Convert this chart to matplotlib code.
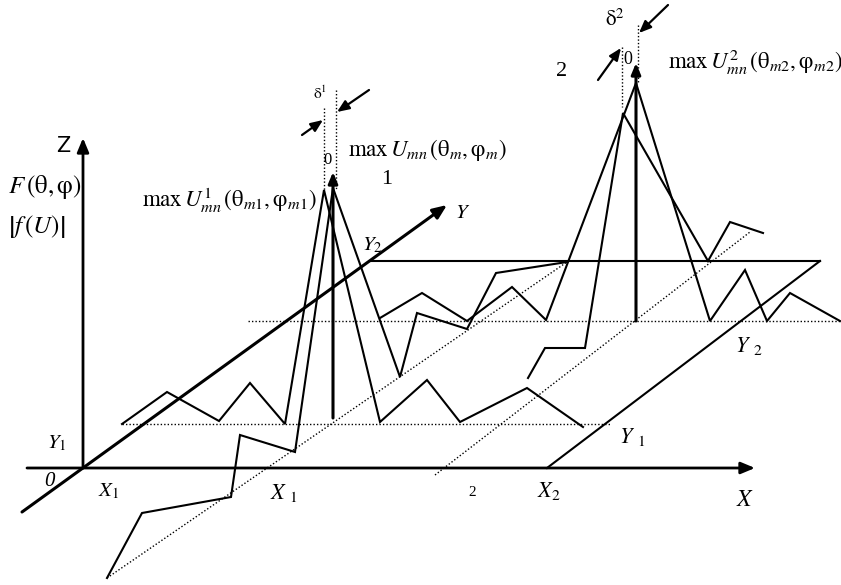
import matplotlib.pyplot as plt

plt.rcParams['font.family'] = ['Liberation Serif', 'DejaVu Serif']
plt.rcParams['mathtext.fontset'] = 'stix'

# spectrum polylines, in drawing units (y grows downward)
front_x = [122, 167, 219, 250, 285, 324, 380, 427, 460, 527, 583]
front_y = [424, 392, 421, 383, 424, 190, 422, 380, 422, 388, 427]

diag_x = [107, 142, 231, 240, 295, 333, 400, 417, 467, 496, 567]
diag_y = [578, 513, 497, 435, 452, 188, 377, 313, 329, 273, 262]

back_x = [380, 422, 467, 512, 546, 636, 710, 745, 767, 790, 840]
back_y = [318, 293, 321, 287, 320, 83, 321, 270, 321, 293, 321]

side_x = [528, 545, 585, 623, 708, 730, 763]
side_y = [378, 348, 348, 113, 261, 222, 233]

# main peaks (x, base, top)
peak_x = [333, 636]
peak_base = [418, 321]
peak_top = [172, 63]

# dotted guides: (x0, y0, x1, y1)
dotted = [
    (122, 424, 610, 424),
    (248, 321, 840, 321),
    (107, 578, 567, 262),
    (435, 475, 750, 232),
    (324, 108, 324, 190),
    (336, 90, 336, 190),
    (622, 47, 622, 107),
    (638, 25, 638, 83),
]

# solid frame lines of the far plane
frame = [
    (370, 261, 820, 261),
    (547, 468, 820, 261),
]

# delta arrows: (tail, head)
delta_arrows = [
    ((302, 135), (323, 120)),
    ((369, 90), (337, 112)),
    ((598, 80), (621, 48)),
    ((668, 5), (639, 33)),
]

# labels: (x, y, text, size, ha, style, family)
labels = [
    (63, 146, 'Z', 15, 'center', 'normal', 'DejaVu Sans'),
    (8, 187, r'$F\,\left(\mathrm{\theta},\mathrm{\varphi}\right)$', 18, 'left', 'normal', None),
    (8, 226, r'$\left|f\,\left(U\right)\right|$', 18, 'left', 'normal', None),
    (142, 200, r'$\max\,U_{mn}^{1}\,\left(\mathrm{\theta}_{m1},\mathrm{\varphi}_{m1}\right)$', 16.5, 'left', 'normal', None),
    (348, 150, r'$\max\,U_{mn}\,\left(\mathrm{\theta}_{m},\mathrm{\varphi}_{m}\right)$', 16.5, 'left', 'normal', None),
    (387, 180, '1', 16, 'center', 'normal', None),
    (320, 93, r'$\mathrm{\delta}^{1}$', 11, 'center', 'normal', None),
    (328, 160, '0', 12, 'center', 'normal', None),
    (372, 245, r'$Y_{2}$', 15, 'center', 'normal', None),
    (463, 213, r'$Y$', 15, 'center', 'normal', None),
    (562, 72, '2', 16, 'center', 'normal', None),
    (615, 20, r'$\mathrm{\delta}^{2}$', 15, 'center', 'normal', None),
    (628, 60, '0', 13, 'center', 'normal', None),
    (668, 62, r'$\max\,U_{mn}^{2}\,\left(\mathrm{\theta}_{m2},\mathrm{\varphi}_{m2}\right)$', 16.5, 'left', 'normal', None),
    (57, 443, r'$Y_{1}$', 15, 'center', 'normal', None),
    (49, 481, '0', 15, 'center', 'italic', None),
    (109, 491, r'$X_{1}$', 15, 'center', 'normal', None),
    (284, 493, r'$X\ _{1}$', 16, 'center', 'normal', None),
    (472, 493, '2', 11, 'center', 'normal', None),
    (549, 491, r'$X_{2}$', 16, 'center', 'normal', None),
    (745, 500, r'$X$', 17, 'center', 'normal', None),
    (632, 437, r'$Y\ _{1}$', 16, 'center', 'normal', None),
    (749, 346, r'$Y\ _{2}$', 16, 'center', 'normal', None),
]

fig = plt.figure(figsize=(8.41, 5.85), dpi=100)
ax = fig.add_axes([0, 0, 1, 1])
ax.set_xlim(0, 841)
ax.set_ylim(585, 0)
ax.axis('off')


def arrow(ax, tail, head, lw=1.6, scale=14):
    ax.annotate('', xy=head, xytext=tail,
                arrowprops=dict(arrowstyle='-|>,head_length=0.6,head_width=0.25',
                                lw=lw, color='black', mutation_scale=scale,
                                shrinkA=0, shrinkB=0))


# axes
arrow(ax, (27, 468), (755, 468), lw=2)
arrow(ax, (83, 468), (83, 138), lw=2)
arrow(ax, (22, 512), (447, 205), lw=2.2)

# dotted guides and far plane
for x0, y0, x1, y1 in dotted:
    ax.plot([x0, x1], [y0, y1], color='black', lw=1, linestyle=(0, (1, 1.5)))
for x0, y0, x1, y1 in frame:
    ax.plot([x0, x1], [y0, y1], color='black', lw=1.5)

# spectra
for xs, ys in [(front_x, front_y), (diag_x, diag_y), (back_x, back_y), (side_x, side_y)]:
    ax.plot(xs, ys, color='black', lw=1.5, solid_joinstyle='miter')

# peak markers
for x, b, t in zip(peak_x, peak_base, peak_top):
    arrow(ax, (x, b), (x, t), lw=2.2, scale=11)

for tail, head in delta_arrows:
    arrow(ax, tail, head, lw=1.6, scale=12)

for x, y, s, size, ha, style, fam in labels:
    kw = {'family': fam} if fam else {}
    ax.text(x, y, s, fontsize=size, ha=ha, va='center', fontstyle=style, **kw)

fig.savefig('out.png', dpi=100)
